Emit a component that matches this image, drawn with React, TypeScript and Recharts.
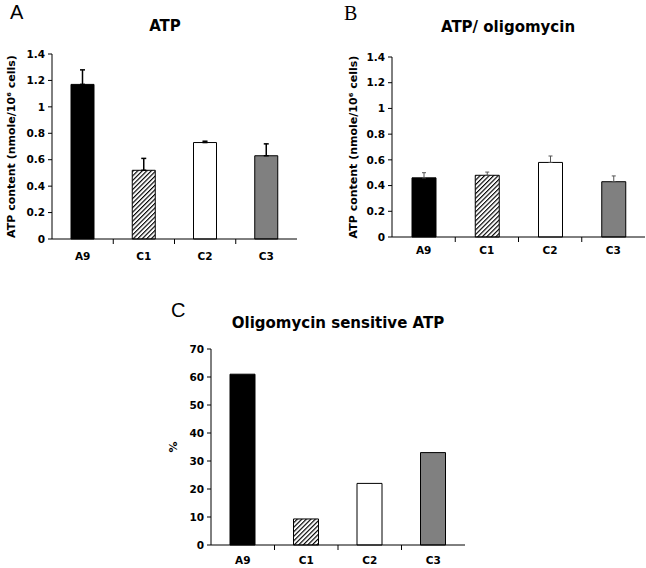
import React from 'react';
import { BarChart, Bar, XAxis, YAxis, Cell, ErrorBar } from 'recharts';

const categories = ['A9', 'C1', 'C2', 'C3'];

const atpValues = [1.17, 0.52, 0.73, 0.63];
const atpErrors = [0.11, 0.09, 0.01, 0.09];

const oligoValues = [0.46, 0.48, 0.58, 0.43];
const oligoErrors = [0.04, 0.025, 0.05, 0.045];

const sensitiveValues = [61, 9.3, 22, 33];

const atpTicks = [0, 0.2, 0.4, 0.6, 0.8, 1, 1.2, 1.4];
const percentTicks = [0, 10, 20, 30, 40, 50, 60, 70];

const yLabelAtp = 'ATP content (nmole/10\u2076 cells)';

const TICK_FONT = '"DejaVu Sans", sans-serif';

const fills = ['#000000', 'url(#HATCH)', '#ffffff', '#808080'];

const buildRows = (values: number[], errors?: number[]) =>
  categories.map((name, i) => ({
    name,
    value: values[i],
    err: errors ? [0, errors[i]] : undefined,
  }));

const XTick = (props: any) => {
  const { x, y, payload, step } = props;
  const idx = payload?.index ?? props.index ?? 0;
  return (
    <g>
      {idx > 0 && (
        <line x1={x - step / 2} x2={x - step / 2} y1={y} y2={y + 5} stroke="#000" strokeWidth={1} />
      )}
      <text
        x={x}
        y={y + props.gap}
        dy="0.71em"
        textAnchor="middle"
        fontFamily={TICK_FONT}
        fontWeight="bold"
        fontSize={10.5}
        fill="#000"
      >
        {payload.value}
      </text>
    </g>
  );
};

const YLabel = (props: any) => {
  const { viewBox, text, dx, fontSize } = props;
  const cx = (viewBox?.x ?? 0) + dx;
  const cy = (viewBox?.y ?? 0) + (viewBox?.height ?? 0) / 2;
  return (
    <text
      x={cx}
      y={cy}
      transform={`rotate(-90, ${cx}, ${cy})`}
      textAnchor="middle"
      fontFamily={TICK_FONT}
      fontWeight="bold"
      fontSize={fontSize}
      fill="#000"
    >
      {text}
    </text>
  );
};

type PanelProps = {
  id: string;
  values: number[];
  errors?: number[];
  ticks: number[];
  width: number;
  height: number;
  top: number;
  right: number;
  yWidth: number;
  xHeight: number;
  barSize: number;
  label: string;
  labelDx: number;
  labelSize: number;
  tickGap: number;
  errColor: string;
  errWidth: number;
  errCap: number;
};

const Panel = (p: PanelProps) => {
  const rows = buildRows(p.values, p.errors);
  const step = (p.width - p.right - p.yWidth) / categories.length;
  const hatchId = `hatch-${p.id}`;
  return (
    <BarChart
      width={p.width}
      height={p.height}
      data={rows}
      margin={{ top: p.top, right: p.right, bottom: 0, left: 0 }}
    >
      <defs>
        <pattern
          id={hatchId}
          width={3.2}
          height={3.2}
          patternUnits="userSpaceOnUse"
          patternTransform="rotate(45)"
        >
          <rect width={3.2} height={3.2} fill="#fff" />
          <line x1={0} y1={0} x2={0} y2={3.2} stroke="#000" strokeWidth={2.3} />
        </pattern>
      </defs>
      <XAxis
        dataKey="name"
        height={p.xHeight}
        axisLine={{ stroke: '#000', strokeWidth: 1 }}
        tickLine={false}
        tickSize={0}
        tickMargin={0}
        interval={0}
        tick={<XTick step={step} gap={p.tickGap} />}
      />
      <YAxis
        width={p.yWidth}
        domain={[p.ticks[0], p.ticks[p.ticks.length - 1]]}
        ticks={p.ticks}
        interval={0}
        axisLine={{ stroke: '#000', strokeWidth: 1 }}
        tickLine={{ stroke: '#000', strokeWidth: 1 }}
        tickSize={4}
        tickMargin={3}
        tick={{ fontFamily: TICK_FONT, fontWeight: 'bold', fontSize: 10.5, fill: '#000' }}
        label={<YLabel text={p.label} dx={p.labelDx} fontSize={p.labelSize} />}
      />
      <Bar dataKey="value" barSize={p.barSize} stroke="#000" strokeWidth={1} isAnimationActive={false}>
        {rows.map((r, i) => (
          <Cell key={r.name} fill={fills[i] === 'url(#HATCH)' ? `url(#${hatchId})` : fills[i]} />
        ))}
        {p.errors && (
          <ErrorBar
            dataKey="err"
            direction="y"
            width={p.errCap}
            stroke={p.errColor}
            strokeWidth={p.errWidth}
          />
        )}
      </Bar>
    </BarChart>
  );
};

export default function App() {
  return (
    <div
      style={{
        position: 'absolute',
        left: 0,
        top: 0,
        width: 646,
        height: 568,
        background: '#fff',
        overflow: 'hidden',
      }}
    >
      <div style={{ position: 'absolute', left: 0, top: 0 }}>
        <Panel
          id="a"
          values={atpValues}
          errors={atpErrors}
          ticks={atpTicks}
          width={320}
          height={290}
          top={54}
          right={23}
          yWidth={52}
          xHeight={51}
          barSize={23}
          label={yLabelAtp}
          labelDx={15}
          labelSize={11}
          tickGap={14}
          errColor="#000"
          errWidth={1.5}
          errCap={2.5}
        />
      </div>
      <div style={{ position: 'absolute', left: 320, top: 0 }}>
        <Panel
          id="b"
          values={oligoValues}
          errors={oligoErrors}
          ticks={atpTicks}
          width={326}
          height={290}
          top={57}
          right={1}
          yWidth={72}
          xHeight={53}
          barSize={24}
          label={yLabelAtp}
          labelDx={37}
          labelSize={11}
          tickGap={10}
          errColor="#555"
          errWidth={1}
          errCap={2}
        />
      </div>
      <div style={{ position: 'absolute', left: 150, top: 290 }}>
        <Panel
          id="c"
          values={sensitiveValues}
          ticks={percentTicks}
          width={350}
          height={278}
          top={59}
          right={35}
          yWidth={61}
          xHeight={23}
          barSize={25}
          label="%"
          labelDx={27}
          labelSize={11}
          tickGap={12}
          errColor="#000"
          errWidth={1}
          errCap={2}
        />
      </div>
      <svg
        width={646}
        height={568}
        style={{ position: 'absolute', left: 0, top: 0, pointerEvents: 'none' }}
      >
        <text x={10} y={19} fontFamily='"Liberation Sans", Arial, sans-serif' fontSize={20} fill="#000">
          A
        </text>
        <text x={344} y={20} fontFamily='"Liberation Serif", "Times New Roman", serif' fontSize={20} fill="#000">
          B
        </text>
        <text x={171} y={317} fontFamily='"Liberation Sans", Arial, sans-serif' fontSize={20} fill="#000">
          C
        </text>
        <text x={165} y={31} textAnchor="middle" fontFamily={TICK_FONT} fontWeight="bold" fontSize={15} fill="#000">
          ATP
        </text>
        <text x={508} y={32} textAnchor="middle" fontFamily={TICK_FONT} fontWeight="bold" fontSize={15} fill="#000">
          ATP/ oligomycin
        </text>
        <text x={338} y={328} textAnchor="middle" fontFamily={TICK_FONT} fontWeight="bold" fontSize={15} fill="#000">
          Oligomycin sensitive ATP
        </text>
      </svg>
    </div>
  );
}
